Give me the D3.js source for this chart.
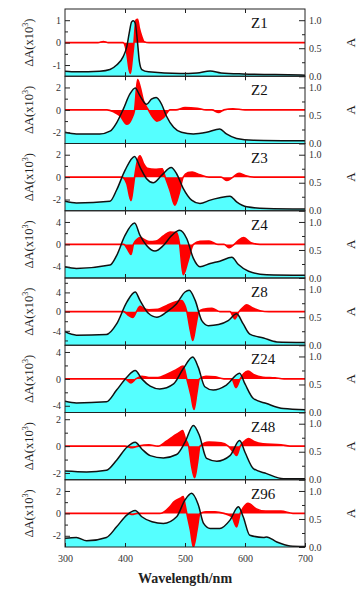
<!DOCTYPE html>
<html>
<head>
<meta charset="utf-8">
<script src="https://cdn.jsdelivr.net/npm/d3@7"></script>
<style>
  body { margin: 0; background: #fff; }
  svg { display: block; font-family: 'Liberation Serif', 'Times New Roman', serif; }
</style>
</head>
<body>
<svg width="357" height="589"></svg>
<script>
// absorption spectra [wavelength nm, A]
const absZ1 = [[300,0.09],[319,0.08],[358,0.09],[375,0.12],[386,0.2],[397,0.35],[403,0.53],[407,0.77],[411,0.97],[414,0.99],[417,0.95],[421,0.59],[424,0.26],[428,0.12],[439,0.08],[492,0.05],[520,0.06],[542,0.095],[560,0.06],[597,0.04],[650,0.03],[700,0.02]];
const absZ2 = [[300,0.2],[319,0.17],[358,0.17],[375,0.22],[386,0.37],[397,0.61],[408,0.88],[417,0.99],[425,0.85],[436,0.7],[444,0.79],[452,0.82],[461,0.7],[469,0.49],[481,0.29],[494,0.2],[514,0.17],[536,0.2],[558,0.26],[569,0.17],[586,0.09],[614,0.06],[700,0.05]];
const absZ3 = [[300,0.17],[319,0.14],[375,0.17],[386,0.37],[400,0.72],[416,0.97],[425,0.78],[436,0.57],[447,0.5],[461,0.63],[477,0.77],[486,0.66],[497,0.4],[511,0.19],[525,0.13],[542,0.19],[558,0.23],[575,0.26],[586,0.16],[603,0.07],[636,0.04],[700,0.03]];
const absZ4 = [[300,0.2],[319,0.17],[375,0.23],[386,0.4],[400,0.76],[416,0.98],[425,0.76],[436,0.58],[450,0.48],[464,0.58],[478,0.76],[491,0.85],[503,0.7],[514,0.35],[525,0.2],[542,0.26],[558,0.3],[578,0.37],[589,0.24],[606,0.12],[636,0.06],[700,0.05]];
const absZ8 = [[300,0.24],[319,0.18],[369,0.19],[386,0.38],[403,0.77],[417,0.95],[425,0.8],[439,0.57],[453,0.5],[469,0.59],[486,0.74],[500,0.95],[507,0.98],[517,0.8],[528,0.44],[539,0.35],[556,0.37],[572,0.44],[586,0.56],[597,0.38],[608,0.2],[631,0.13],[653,0.06],[700,0.05]];
const absZ24 = [[300,0.2],[319,0.17],[369,0.19],[386,0.4],[403,0.63],[417,0.75],[428,0.6],[442,0.47],[458,0.42],[481,0.51],[497,0.78],[513,0.99],[522,0.81],[533,0.46],[547,0.4],[569,0.49],[591,0.7],[600,0.51],[614,0.25],[636,0.16],[664,0.07],[700,0.05]];
const absZ48 = [[300,0.155],[336,0.14],[369,0.17],[386,0.35],[403,0.58],[417,0.67],[428,0.55],[442,0.43],[464,0.39],[486,0.45],[500,0.67],[514,0.97],[524,0.79],[536,0.38],[553,0.33],[575,0.43],[591,0.7],[600,0.49],[614,0.2],[636,0.11],[664,0.02],[700,0.02]];
const absZ96 = [[300,0.155],[319,0.17],[336,0.11],[369,0.17],[386,0.36],[403,0.57],[417,0.65],[428,0.54],[445,0.45],[464,0.42],[486,0.54],[500,0.84],[511,0.96],[522,0.76],[531,0.42],[542,0.33],[558,0.33],[575,0.48],[589,0.72],[597,0.54],[608,0.21],[631,0.17],[636,0.18],[653,0.09],[675,0.02],[700,0.01]];

// difference spectra [wavelength nm, dA x10^3]
const diffZ1 = [[300,0],[355,0],[364,0.05],[372,0],[397,0],[403,-0.48],[407,-1.22],[409,-1.37],[412,-0.77],[415,0],[418,1.0],[421,1.04],[424,0.64],[428,0.27],[432,0.04],[440,0],[700,0]];
const diffZ2 = [[300,0],[370,0],[381,-0.18],[392,-0.54],[403,-1.28],[411,-0.8],[416,0],[421,2.7],[425,2.1],[431,0.8],[439,0],[447,-0.7],[453,-1.0],[464,-0.7],[475,0],[485,0],[500,0.2],[520,0.15],[535,0],[545,0],[556,-0.24],[565,0],[580,0.1],[600,0],[700,0]];
const diffZ3 = [[300,0],[395,0],[403,-0.6],[410,-2.1],[414,-0.8],[416,0],[421,1.5],[425,1.9],[431,1.2],[437,0.8],[450,0.7],[462,0.75],[467,0],[475,-1.2],[483,-2.5],[490,-1.5],[497,0],[505,0.4],[512,0.45],[525,0.2],[540,0],[560,0],[570,-0.3],[580,0],[590,0.35],[600,0.15],[615,0],[700,0]];
const diffZ4 = [[300,0],[398,0],[405,-1.0],[410,-1.8],[414,0],[420,0.9],[425,1.2],[440,0.5],[452,0.6],[464,1.5],[475,2.2],[486,2.1],[491,0],[497,-5.4],[505,-3],[514,0],[525,0.55],[540,0.6],[555,0],[565,0],[574,-0.6],[582,0],[590,0.8],[598,1.2],[610,0.3],[625,0],[700,0]];
const diffZ8 = [[300,0],[398,0],[405,-0.7],[413,-1.2],[419,0],[425,1.1],[432,0.6],[440,0.4],[455,0.5],[469,1.25],[486,2.1],[494,2.3],[499,1.5],[503,0],[509,-4],[513,-6.0],[518,-3],[523,0],[530,0.5],[545,0.7],[558,0],[575,0],[583,-1.5],[590,0],[596,0.8],[603,1.4],[612,0.8],[625,0.2],[640,0],[700,0]];
const diffZ24 = [[300,0],[400,0],[410,-0.6],[418,0],[428,0.4],[440,0.2],[455,0.2],[469,0.65],[486,1.4],[497,1.9],[503,0],[510,-2.5],[515,-4.55],[520,-2],[524,0],[535,0.4],[550,0.3],[565,0],[578,0],[585,-1.3],[592,0],[598,0.8],[605,1.15],[615,0.6],[630,0.25],[650,0.15],[665,0],[700,0]];
const diffZ48 = [[300,0],[400,0],[412,-0.12],[422,0],[440,0.1],[455,0],[469,0.37],[481,0.74],[492,1.06],[496,1.16],[501,0.5],[506,0],[511,-1.5],[516,-2.35],[521,-1.2],[525,0],[540,0.3],[560,0.25],[572,0],[580,-0.4],[586,-0.7],[592,0],[600,0.4],[606,0.57],[615,0.35],[630,0.17],[660,0.1],[675,0],[700,0]];
const diffZ96 = [[300,0],[405,0],[412,-0.1],[420,0],[458,0],[469,0.3],[475,0.6],[481,1.0],[492,1.35],[497,1.5],[500,0.8],[503,0],[509,-1.5],[514,-3.0],[520,-1.5],[525,0],[535,0.15],[550,0.15],[565,0],[578,-0.3],[586,-1.2],[592,0],[597,0.5],[605,0.9],[619,0.4],[635,0.2],[660,0.2],[680,0],[700,0]];

const panelNames = ['Z1', 'Z2', 'Z3', 'Z4', 'Z8', 'Z24', 'Z48', 'Z96'];
const diffLimits = [1.5, 3, 3, 6, 7, 5, 2.5, 3];
const diffTicks = [[-1, 0, 1], [-2, 0, 2], [-2, 0, 2], [-4, 0, 4], [-4, 0, 4], [-4, 0, 4], [-2, 0, 2], [-2, 0, 2]];
const diffMinor = [[-0.5, 0.5], [-3, -1, 1, 3], [-3, -1, 1, 3], [-6, -2, 2, 6], [-6, -2, 2, 6], [-2, 2], [-1, 1], [-3, -1, 1, 3]];
const xTicks = [300, 400, 500, 600, 700];
const aTicks = [0, 0.5, 1.0];
const aMinor = [0.25, 0.75];

const absData = [absZ1, absZ2, absZ3, absZ4, absZ8, absZ24, absZ48, absZ96];
const diffData = [diffZ1, diffZ2, diffZ3, diffZ4, diffZ8, diffZ24, diffZ48, diffZ96];

const plotLeft = 65, plotRight = 305, plotTop = 9, panelH = 67.25;
const cyan = '#55ffff', red = '#ff0000';

const svg = d3.select('svg');
const xScale = d3.scaleLinear().domain([300, 700]).range([plotLeft, plotRight]);

panelNames.forEach((name, i) => {
  const y0 = plotTop + i * panelH, y1 = y0 + panelH;
  const aScale = d3.scaleLinear().domain([0, 1.2]).range([y1, y0]);
  const lim = diffLimits[i];
  const dScale = d3.scaleLinear().domain([-lim, lim]).range([y1, y0]);

  svg.append('clipPath').attr('id', 'clip' + i)
    .append('rect').attr('x', plotLeft).attr('y', y0).attr('width', plotRight - plotLeft).attr('height', panelH);
  const g = svg.append('g').attr('clip-path', 'url(#clip' + i + ')');

  // absorption fill
  const area = d3.area()
    .x(d => xScale(d[0])).y0(y1).y1(d => aScale(d[1]))
    .curve(d3.curveMonotoneX);
  g.append('path').datum(absData[i]).attr('fill', cyan).attr('d', area);

  // difference spectrum, filled to zero
  const dArea = d3.area()
    .x(d => xScale(d[0])).y0(dScale(0)).y1(d => dScale(d[1]))
    .curve(d3.curveMonotoneX);
  g.append('path').datum(diffData[i]).attr('fill', red).attr('d', dArea);
  const dLine = d3.line()
    .x(d => xScale(d[0])).y(d => dScale(d[1]))
    .curve(d3.curveMonotoneX);
  g.append('path').datum(diffData[i])
    .attr('fill', 'none').attr('stroke', red).attr('stroke-width', 1.6)
    .attr('d', dLine);

  // absorption line
  const line = d3.line()
    .x(d => xScale(d[0])).y(d => aScale(d[1]))
    .curve(d3.curveMonotoneX);
  g.append('path').datum(absData[i])
    .attr('fill', 'none').attr('stroke', '#111').attr('stroke-width', 1.5)
    .attr('d', line);

  // axes (ticks inside)
  svg.append('g').attr('transform', 'translate(' + plotLeft + ',0)')
    .call(d3.axisLeft(dScale).tickValues(diffTicks[i]).tickSizeInner(-5).tickSizeOuter(0)
      .tickPadding(4).tickFormat(d => String(d)));
  svg.append('g').attr('transform', 'translate(' + plotLeft + ',0)')
    .call(d3.axisLeft(dScale).tickValues(diffMinor[i].filter(v => Math.abs(v) < lim))
      .tickSizeInner(-3).tickSizeOuter(0).tickFormat(''));
  svg.append('g').attr('transform', 'translate(' + plotRight + ',0)')
    .call(d3.axisRight(aScale).tickValues(aTicks).tickSizeInner(-6).tickSizeOuter(0)
      .tickPadding(4).tickFormat(d3.format('.1f')));
  svg.append('g').attr('transform', 'translate(' + plotRight + ',0)')
    .call(d3.axisRight(aScale).tickValues(aMinor).tickSizeInner(-3).tickSizeOuter(0).tickFormat(''));
  svg.append('g').attr('transform', 'translate(0,' + y0 + ')')
    .call(d3.axisTop(xScale).tickValues([400, 500, 600]).tickSizeInner(-4).tickSizeOuter(0).tickFormat(''));
  svg.append('g').attr('transform', 'translate(0,' + y1 + ')')
    .call(d3.axisBottom(xScale).tickValues(i === 7 ? xTicks : [400, 500, 600])
      .tickSizeInner(-4).tickSizeOuter(0).tickPadding(8)
      .tickFormat(i === 7 ? d => String(d) : ''));

  svg.selectAll('.domain').remove();
  svg.selectAll('.tick text').attr('font-family', "'Liberation Serif', serif").attr('font-size', 10).attr('fill', '#333');
  svg.selectAll('.tick line').attr('stroke', '#222');

  // frame
  svg.append('rect')
    .attr('x', plotLeft).attr('y', y0).attr('width', plotRight - plotLeft).attr('height', panelH)
    .attr('fill', 'none').attr('stroke', '#222').attr('stroke-width', 1);

  // panel label
  svg.append('text').attr('x', 251).attr('y', y0 + 19)
    .attr('font-size', 15).attr('fill', '#111').text(name);

  // left axis title
  const t = svg.append('text')
    .attr('transform', 'translate(33,' + (y0 + panelH / 2) + ') rotate(-90)')
    .attr('text-anchor', 'middle').attr('font-size', 12.5).attr('fill', '#222');
  t.append('tspan').text('ΔA(x10');
  t.append('tspan').attr('font-size', 8).attr('dy', -5).text('3');
  t.append('tspan').attr('dy', 5).text(')');

  // right axis title
  svg.append('text')
    .attr('transform', 'translate(355,' + (y0 + panelH / 2) + ') rotate(-90)')
    .attr('text-anchor', 'middle').attr('font-size', 13).attr('fill', '#222').text('A');
});

svg.append('text').attr('x', (plotLeft + plotRight) / 2).attr('y', 583)
  .attr('text-anchor', 'middle').attr('font-size', 14).attr('font-weight', 'bold')
  .attr('fill', '#222').text('Wavelength/nm');
</script>
</body>
</html>
